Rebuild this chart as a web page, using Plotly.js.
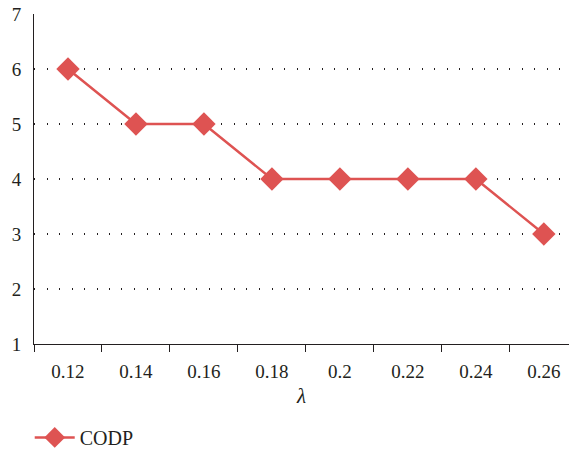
<!DOCTYPE html>
<html>
<head>
<meta charset="utf-8">
<script src="https://cdn.plot.ly/plotly-3.0.1.min.js"></script>
<style>html,body{margin:0;padding:0;background:#fff;}#chart{width:569px;height:451px;}</style>
</head>
<body>
<div id="chart"></div>
<script>
const categories = ["0.12", "0.14", "0.16", "0.18", "0.2", "0.22", "0.24", "0.26"];
const codp = [6, 5, 5, 4, 4, 4, 4, 3];
const seriesName = "CODP";
const yTicks = [1, 2, 3, 4, 5, 6, 7];

const red = "#DE5352";
const font = "'Liberation Serif', 'Times New Roman', serif";
const ink = "#231f20";

const trace = {
  x: categories,
  y: codp,
  name: seriesName,
  type: "scatter",
  mode: "lines+markers",
  line: {color: red, width: 2.5},
  marker: {symbol: "diamond", size: 18, color: red}
};

const layout = {
  width: 569, height: 451,
  margin: {l: 34, r: 0, t: 14, b: 107},
  paper_bgcolor: "#fff", plot_bgcolor: "#fff",
  font: {family: font, size: 19, color: ink},
  showlegend: true,
  legend: {orientation: "h", x: -0.008, xanchor: "left", yref: "container", y: 0.03, yanchor: "middle",
           itemwidth: 40,
           font: {family: font, size: 20, color: ink}},
  xaxis: {
    type: "category",
    range: [-0.5, 7.37],
    tickson: "boundaries",
    ticks: "outside", ticklen: 7, tickcolor: ink, tickwidth: 1,
    ticklabelstandoff: 10,
    showline: true, linecolor: ink, linewidth: 1,
    showgrid: false, zeroline: false,
    tickfont: {family: font, size: 19, color: ink},
    title: {text: "<i>λ</i>", font: {family: font, size: 21, color: ink}, standoff: 7}
  },
  yaxis: {
    range: [1, 7],
    tickvals: yTicks,
    showline: true, linecolor: ink, linewidth: 1,
    ticks: "", ticklabelstandoff: 8,
    showgrid: true, gridcolor: ink, gridwidth: 1.3, griddash: "1px,11.5px",
    zeroline: false,
    tickfont: {family: font, size: 19, color: ink}
  }
};

Plotly.newPlot("chart", [trace], layout, {displayModeBar: false, staticPlot: true});
</script>
</body>
</html>
